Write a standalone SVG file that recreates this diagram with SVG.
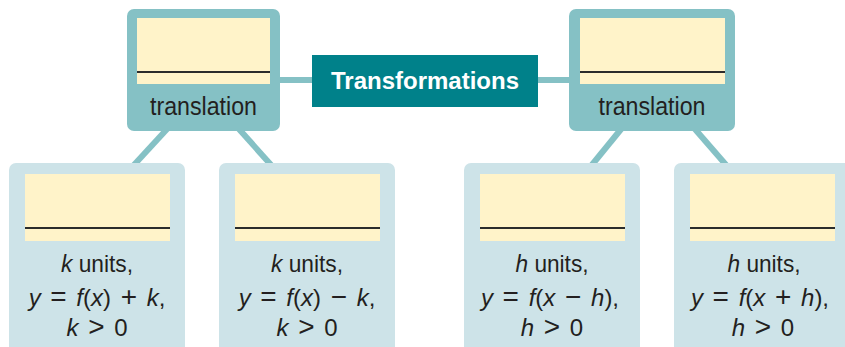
<svg xmlns="http://www.w3.org/2000/svg" width="845" height="347" viewBox="0 0 845 347">
  <style>
    .top { fill: #85c1c5; }
    .leaf { fill: #cde3e8; }
    .slot { fill: #fff3c9; }
    .rule { stroke: #2b2b2b; stroke-width: 2; }
    .conn { stroke: #85c1c5; stroke-width: 6; fill: none; }
    .lbl { font-family: "Liberation Sans", Arial, sans-serif; font-size: 24px; fill: #231f20; text-anchor: middle; }
    .name { font-size: 25px; }
    .eq { word-spacing: 3px; }
    .v { font-style: italic; }
    .op { font-size: 28px; }
    .title { font-family: "Liberation Sans", Arial, sans-serif; font-size: 24px; font-weight: bold; fill: #ffffff; text-anchor: middle; }
  </style>
  <rect width="845" height="347" fill="#ffffff"/>

  <!-- connectors -->
  <g id="connectors">
    <line class="conn" x1="280" y1="80" x2="312" y2="80"/>
    <line class="conn" x1="538" y1="80" x2="569" y2="80"/>
    <line class="conn" x1="168" y1="128" x2="133" y2="166"/>
    <line class="conn" x1="238" y1="128" x2="272" y2="166"/>
    <line class="conn" x1="622" y1="128" x2="591" y2="166"/>
    <line class="conn" x1="694" y1="128" x2="727" y2="166"/>
  </g>

  <!-- central title -->
  <g id="transformations">
    <rect x="312" y="55" width="226" height="52" fill="#00818a"/>
    <text class="title" x="425" y="89">Transformations</text>
  </g>

  <!-- left translation -->
  <g id="translation-left">
    <rect class="top" x="127" y="9" width="153" height="122" rx="7"/>
    <rect class="slot" x="137" y="18" width="133" height="66"/>
    <line class="rule" x1="137" y1="72" x2="270" y2="72"/>
    <text class="lbl name" x="203.5" y="115" textLength="107" lengthAdjust="spacingAndGlyphs">translation</text>
  </g>

  <!-- right translation -->
  <g id="translation-right">
    <rect class="top" x="569" y="9" width="166" height="122" rx="7"/>
    <rect class="slot" x="580" y="18" width="145" height="66"/>
    <line class="rule" x1="580" y1="72" x2="725" y2="72"/>
    <text class="lbl name" x="652" y="115" textLength="107" lengthAdjust="spacingAndGlyphs">translation</text>
  </g>

  <!-- k units up -->
  <g id="k-up">
    <rect class="leaf" x="9" y="163" width="176" height="200" rx="7"/>
    <rect class="slot" x="25" y="174" width="145" height="67"/>
    <line class="rule" x1="25" y1="228" x2="170" y2="228"/>
    <text class="lbl" x="97" y="272" textLength="72" lengthAdjust="spacingAndGlyphs"><tspan class="v">k</tspan> units,</text>
    <text class="lbl eq" x="97" y="306"><tspan class="v">y</tspan> <tspan class="op">=</tspan> <tspan class="v">f</tspan>(<tspan class="v">x</tspan>) <tspan class="op">+</tspan> <tspan class="v">k</tspan>,</text>
    <text class="lbl eq" x="97" y="336"><tspan class="v">k</tspan> <tspan class="op">&gt;</tspan> 0</text>
  </g>

  <!-- k units down -->
  <g id="k-down">
    <rect class="leaf" x="219" y="163" width="176" height="200" rx="7"/>
    <rect class="slot" x="235" y="174" width="145" height="67"/>
    <line class="rule" x1="235" y1="228" x2="380" y2="228"/>
    <text class="lbl" x="307" y="272" textLength="72" lengthAdjust="spacingAndGlyphs"><tspan class="v">k</tspan> units,</text>
    <text class="lbl eq" x="307" y="306"><tspan class="v">y</tspan> <tspan class="op">=</tspan> <tspan class="v">f</tspan>(<tspan class="v">x</tspan>) <tspan class="op">−</tspan> <tspan class="v">k</tspan>,</text>
    <text class="lbl eq" x="307" y="336"><tspan class="v">k</tspan> <tspan class="op">&gt;</tspan> 0</text>
  </g>

  <!-- h units right -->
  <g id="h-right">
    <rect class="leaf" x="464" y="163" width="176" height="200" rx="7"/>
    <rect class="slot" x="480" y="174" width="145" height="67"/>
    <line class="rule" x1="480" y1="228" x2="625" y2="228"/>
    <text class="lbl" x="552" y="272" textLength="73" lengthAdjust="spacingAndGlyphs"><tspan class="v">h</tspan> units,</text>
    <text class="lbl eq" x="550" y="306"><tspan class="v">y</tspan> <tspan class="op">=</tspan> <tspan class="v">f</tspan>(<tspan class="v">x</tspan> <tspan class="op">−</tspan> <tspan class="v">h</tspan>),</text>
    <text class="lbl eq" x="552" y="336"><tspan class="v">h</tspan> <tspan class="op">&gt;</tspan> 0</text>
  </g>

  <!-- h units left -->
  <g id="h-left">
    <rect class="leaf" x="674" y="163" width="180" height="200" rx="7"/>
    <rect class="slot" x="690" y="174" width="145" height="67"/>
    <line class="rule" x1="690" y1="228" x2="835" y2="228"/>
    <text class="lbl" x="764" y="272" textLength="73" lengthAdjust="spacingAndGlyphs"><tspan class="v">h</tspan> units,</text>
    <text class="lbl eq" x="760" y="306"><tspan class="v">y</tspan> <tspan class="op">=</tspan> <tspan class="v">f</tspan>(<tspan class="v">x</tspan> <tspan class="op">+</tspan> <tspan class="v">h</tspan>),</text>
    <text class="lbl eq" x="763" y="336"><tspan class="v">h</tspan> <tspan class="op">&gt;</tspan> 0</text>
  </g>
</svg>
